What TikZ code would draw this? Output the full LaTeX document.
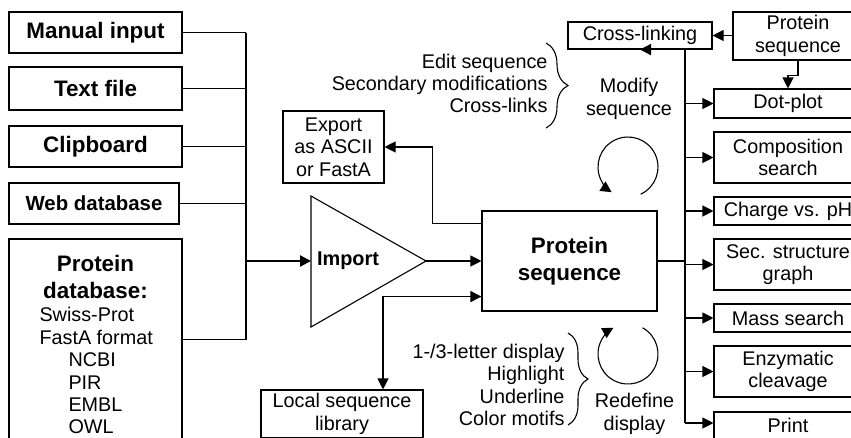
\documentclass[tikz,border=0pt]{standalone}
\usepackage{fontspec}
\setmainfont{Liberation Sans}
\usetikzlibrary{arrows.meta,calc,decorations.pathreplacing}

\newcommand{\regfont}{\fontsize{19.8}{22.4}\selectfont}
\newcommand{\bigbf}{\fontsize{22.4}{27}\selectfont\bfseries}

\tikzset{
  box/.style={draw, line width=1.1pt, align=center, inner sep=0pt},
  wire/.style={line width=1.1pt},
  bus/.style={line width=1.8pt},
  arr/.style={-{Triangle[length=11pt,width=11pt]}, line width=1.1pt},
  arrboth/.style={{Triangle[length=11pt,width=11pt]}-{Triangle[length=11pt,width=11pt]}, line width=1.1pt},
  curly/.style={decorate, decoration={brace, amplitude=#1}, line width=1.1pt},
}

\begin{document}
\begin{tikzpicture}[x=1pt, y=-1pt, font=\regfont]
  \useasboundingbox (0,0) rectangle (851,437);
  \clip (0,0) rectangle (851,437);

  % input sources
  \node[box, minimum width=173, minimum height=41, font=\bigbf] (manual) at (95.5,32.5) {Manual input};
  \node[box, minimum width=173, minimum height=43, font=\bigbf] (textfile) at (95.5,88.5) {Text file};
  \node[box, minimum width=173, minimum height=41, font=\bigbf] (clip) at (95.5,146.5) {Clipboard};
  \node[box, minimum width=170, minimum height=41, font=\fontsize{20.4}{24}\selectfont\bfseries] (webdb) at (94,203.5) {Web database};
  \node[box, minimum width=173, minimum height=201] (protdb) at (95.5,339.5) {};
  \node[font=\bigbf, align=center] (dbhead) at (95.5,276.5) {Protein\\database:};
  \node[anchor=north west, align=left] (dblist) at (36,304) {Swiss-Prot\\FastA format\\\hspace*{29pt}NCBI\\\hspace*{29pt}PIR\\\hspace*{29pt}EMBL\\\hspace*{29pt}OWL};

  % import stage
  \coordinate (tritop) at (311,196);
  \coordinate (tribot) at (311,327);
  \coordinate (tritip) at (426,261);
  \draw[wire] (tritop) -- (tritip) -- (tribot) -- cycle;
  \node[font=\fontsize{19.9}{24}\selectfont\bfseries] (imp) at (348,261) {Import};

  \coordinate (lbus) at (246,261);
  \foreach \src in {manual,textfile,clip,webdb,protdb}
    \draw[wire] (\src.east) -- (\src.east -| lbus);
  \draw[bus] (manual.east -| lbus) -- (protdb.east -| lbus);
  \draw[arr, line width=2.4pt] (lbus) -- (lbus -| tritop);

  % main sequence
  \node[box, minimum width=175, minimum height=100, font=\bigbf] (psq) at (569.5,261) {Protein\\sequence};
  \draw[arr] (tritip) -- (tritip -| psq.west);

  \node[box, minimum width=101, minimum height=72] (export) at (333.5,147) {Export\\as ASCII\\or FastA};
  \draw[arr] ($(psq.north west)+(0,13)$) -- ++(-49,0) |- (export.east);

  \node[box, minimum width=162, minimum height=48] (local) at (342,414) {Local sequence\\library};
  \draw[arrboth] ($(local.north)+(41,0)$) |- ($(psq.south west)+(0,-15)$);

  % modify / redefine loops
  \node[anchor=east, align=right] (modtxt) at (551,83.5) {Edit sequence\\Secondary modifications\\Cross-links};
  \draw[curly=22pt] (546,43) -- (546,128);
  \node[align=center] (modlbl) at (629,99) {Modify\\sequence};
  \draw[arr] (628,167) ++(65:30) arc[start angle=65, end angle=-237, radius=30];

  \node[anchor=east, align=right] (distxt) at (568,385) {1-/3-letter display\\Highlight\\Underline\\Color motifs};
  \draw[curly=20pt] (568,333) -- (568,425);
  \node[align=center] (redlbl) at (634.5,414) {Redefine\\display};
  \draw[arr] (628,354) ++(-61:30) arc[start angle=-61, end angle=241, radius=30];

  % analysis tools
  \node[box, minimum width=144, minimum height=27] (xlink) at (640,35.5) {Cross-linking};
  \node[box, minimum width=130, minimum height=48] (rprot) at (798,36) {Protein\\sequence};
  \node[box, minimum width=148, minimum height=29] (dotplot) at (788,103.5) {Dot-plot};
  \node[box, minimum width=148, minimum height=51] (comp) at (788,157.5) {Composition\\search};
  \node[box, minimum width=148, minimum height=28] (charge) at (788,211) {Charge vs. pH};
  \node[box, minimum width=148, minimum height=51] (secstr) at (788,264.5) {Sec. structure\\graph};
  \node[box, minimum width=148, minimum height=28] (mass) at (788,318) {Mass search};
  \node[box, minimum width=148, minimum height=51] (enzy) at (788,371.5) {Enzymatic\\cleavage};
  \node[box, minimum width=148, minimum height=30] (print) at (788,427) {\raisebox{4pt}{Print}};

  \draw[arr] (rprot.west |- xlink.east) -- (xlink.east);
  \draw[arr] (rprot.south) -- ++(0,15) -| (dotplot.north);

  \coordinate (rbus) at (685,423);
  \draw[bus] (psq.east) -- (psq.east -| rbus);
  \draw[bus, -{Triangle[length=11pt,width=11pt]}] (rbus) |- (xlink.south);
  \draw[arr] (rbus) -- (rbus -| print.west);
  \foreach \dst in {dotplot,comp,charge,secstr,mass,enzy}
    \draw[arr] (\dst.west -| rbus) -- (\dst.west);
\end{tikzpicture}
\end{document}
